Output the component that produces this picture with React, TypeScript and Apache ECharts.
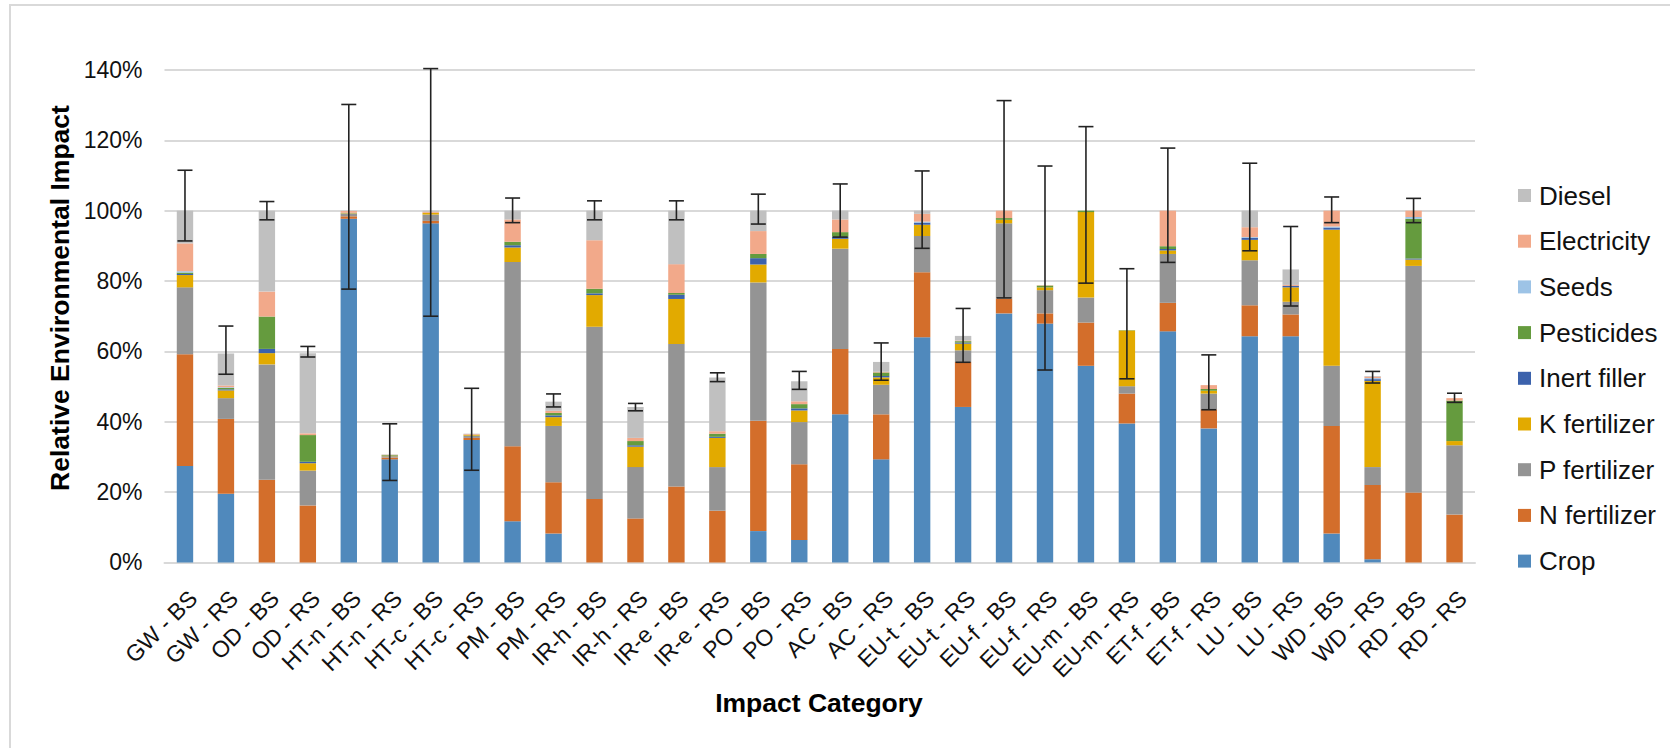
import React, { useEffect, useRef } from "react";
import * as echarts from "echarts";

const categories = [
  "GW - BS", "GW - RS", "OD - BS", "OD - RS", "HT-n - BS", "HT-n - RS", "HT-c - BS", "HT-c - RS",
  "PM - BS", "PM - RS", "IR-h - BS", "IR-h - RS", "IR-e - BS", "IR-e - RS", "PO - BS", "PO - RS",
  "AC - BS", "AC - RS", "EU-t - BS", "EU-t - RS", "EU-f - BS", "EU-f - RS", "EU-m - BS", "EU-m - RS",
  "ET-f - BS", "ET-f - RS", "LU - BS", "LU - RS", "WD - BS", "WD - RS", "RD - BS", "RD - RS",
];

const crop = [27.4, 19.5, 0, 0, 97.7, 29.3, 96.4, 34.8, 11.7, 8.2, 0, 0, 0, 0, 8.9, 6.4, 42.1, 29.3, 64.0, 44.2, 70.8, 67.9, 55.9, 39.5, 65.7, 38.1, 64.3, 64.3, 8.2, 0.9, 0, 0];
const nFertilizer = [31.8, 21.3, 23.5, 16.2, 0.7, 0.5, 0.7, 0.6, 21.3, 14.6, 18.0, 12.5, 21.6, 14.7, 31.4, 21.5, 18.6, 12.8, 18.5, 12.8, 4.2, 2.9, 12.3, 8.5, 8.1, 5.4, 8.8, 6.2, 30.6, 21.1, 19.9, 13.6];
const pFertilizer = [19.0, 5.9, 32.8, 9.9, 0.8, 0.4, 1.8, 0.6, 52.4, 16.0, 49.0, 14.6, 40.5, 12.4, 39.3, 12.0, 28.5, 8.4, 10.3, 3.3, 21.4, 6.6, 7.1, 2.1, 13.9, 4.5, 12.8, 3.6, 17.1, 5.1, 64.4, 19.7];
const kFertilizer = [3.5, 2.2, 3.2, 2.1, 0.1, 0.1, 0.5, 0.2, 4.1, 2.5, 9.0, 5.8, 12.8, 8.3, 5.1, 3.3, 2.8, 2.1, 3.2, 1.9, 1.0, 0.8, 24.3, 15.8, 1.0, 0.8, 5.8, 4.1, 38.7, 24.5, 1.8, 1.2];
const inertFiller = [0.3, 0.3, 1.2, 0.4, 0, 0, 0, 0, 0.7, 0.5, 0.5, 0.4, 1.2, 0.3, 1.8, 0.6, 0.6, 0.4, 0.6, 0.3, 0, 0, 0, 0, 0.4, 0, 0.6, 0.4, 0.6, 0.5, 0.3, 0];
const pesticides = [0.4, 0.4, 9.2, 7.6, 0.1, 0.2, 0, 0.1, 1.0, 0.7, 1.3, 1.2, 0.5, 0.9, 1.2, 1.2, 1.3, 1.0, 0, 0.4, 0.5, 0.5, 0.4, 0.1, 0.8, 0.5, 0, 0, 0, 0, 11.3, 11.5];
const seeds = [0.4, 0.2, 0, 0, 0, 0, 0, 0, 0, 0, 0, 0, 0, 0, 0, 0, 0, 0, 0.3, 0, 0, 0, 0, 0, 0, 0, 0.2, 0, 0.3, 0.3, 0.5, 0];
const electricity = [7.9, 0.5, 7.1, 0.5, 0.5, 0.1, 0.3, 0.2, 6.3, 0.6, 13.8, 0.9, 8.2, 0.7, 6.5, 0.8, 3.6, 0.2, 2.2, 0.2, 2.1, 0.1, 0, 0, 10.1, 1.1, 2.8, 0.3, 4.5, 0.4, 1.8, 0.7];
const diesel = [9.3, 9.1, 23.0, 22.8, 0.1, 0.1, 0.3, 0.1, 2.5, 2.6, 8.4, 8.8, 15.2, 15.3, 5.8, 5.7, 2.5, 2.8, 0.9, 1.3, 0, 0, 0, 0, 0, 0, 4.7, 4.4, 0, 0.2, 0, 0];

const errLow = [91.4, 53.5, 97.4, 58.4, 77.7, 23.3, 70.0, 26.2, 96.6, 44.2, 97.4, 43.1, 97.4, 51.4, 96.2, 49.2, 92.5, 51.8, 89.3, 56.9, 75.2, 54.7, 79.4, 52.2, 85.3, 43.4, 88.6, 72.9, 96.6, 51.0, 96.6, 45.5];
const errHigh = [111.5, 67.2, 102.6, 61.4, 130.2, 39.4, 140.4, 49.5, 103.6, 47.9, 102.8, 45.2, 102.8, 53.9, 104.7, 54.3, 107.6, 62.4, 111.3, 72.2, 131.3, 112.7, 123.9, 83.5, 117.8, 59.0, 113.5, 95.5, 103.9, 54.3, 103.5, 48.1];

const seriesNames = ["Crop", "N fertilizer", "P fertilizer", "K fertilizer", "Inert filler", "Pesticides", "Seeds", "Electricity", "Diesel"];
const seriesData = [crop, nFertilizer, pFertilizer, kFertilizer, inertFiller, pesticides, seeds, electricity, diesel];
const seriesColors = ["#5089BC", "#D36E2B", "#949494", "#E2AA00", "#3C62AC", "#659B3E", "#9DC3E6", "#F2A98A", "#C0C0C0"];

const yTicks = [0, 20, 40, 60, 80, 100, 120, 140];

const FONT = "'Liberation Sans', Arial, sans-serif";

export default function App() {
  const ref = useRef<HTMLDivElement>(null);

  useEffect(() => {
    document.body.style.margin = "0";
    if (!ref.current) return;
    const chart = echarts.init(ref.current, undefined, { renderer: "svg" });

    const barSeries = seriesNames.map((name, i) => ({
      name,
      type: "bar",
      stack: "total",
      barWidth: 16.4,
      data: seriesData[i],
      itemStyle: { color: seriesColors[i] },
      emphasis: { disabled: true },
    }));

    const errData = categories.map((_, i) => [i, errLow[i], errHigh[i]]);

    const option = {
      animation: false,
      backgroundColor: "#ffffff",
      textStyle: { fontFamily: FONT },
      grid: { left: 164.5, right: 195, top: 70, bottom: 185.6, containLabel: false },
      legend: {
        orient: "vertical",
        left: 1518,
        top: 182.5,
        itemWidth: 13,
        itemHeight: 13,
        itemGap: 19.7,
        icon: "rect",
        padding: 0,
        data: [...seriesNames].reverse(),
        textStyle: { fontSize: 26, color: "#111", fontFamily: FONT, lineHeight: 26, padding: [0, 0, 0, 3] },
      },
      xAxis: {
        type: "category",
        data: categories,
        axisLine: { lineStyle: { color: "#D9D9D9", width: 2 } },
        axisTick: { show: false },
        axisLabel: {
          interval: 0,
          rotate: 45,
          margin: 24,
          align: "right",
          verticalAlign: "top",
          fontSize: 23,
          color: "#111",
          fontFamily: FONT,
        },
      },
      yAxis: {
        type: "value",
        min: yTicks[0],
        max: yTicks[yTicks.length - 1],
        interval: 20,
        axisLine: { show: false },
        axisTick: { show: false },
        splitLine: { lineStyle: { color: "#D9D9D9", width: 2 } },
        axisLabel: {
          formatter: "{value}%",
          fontSize: 23,
          color: "#111",
          margin: 22,
          fontFamily: FONT,
        },
      },
      series: [
        ...barSeries,
        {
          name: "error",
          type: "custom",
          data: errData,
          z: 10,
          silent: true,
          renderItem: (params: any, api: any) => {
            const x = api.value(0);
            const lo = api.coord([x, api.value(1)]);
            const hi = api.coord([x, api.value(2)]);
            const cap = 7.5;
            const style = { stroke: "#222", lineWidth: 1.6 };
            return {
              type: "group",
              children: [
                { type: "line", shape: { x1: lo[0], y1: lo[1], x2: hi[0], y2: hi[1] }, style },
                { type: "line", shape: { x1: hi[0] - cap, y1: hi[1], x2: hi[0] + cap, y2: hi[1] }, style },
                { type: "line", shape: { x1: lo[0] - cap, y1: lo[1], x2: lo[0] + cap, y2: lo[1] }, style },
              ],
            };
          },
        },
      ],
      graphic: [
        {
          type: "rect",
          shape: { x: 10, y: 5, width: 1700, height: 800 },
          style: { fill: "none", stroke: "#D9D9D9", lineWidth: 2 },
          silent: true,
        },
        {
          type: "text",
          x: 60,
          y: 298,
          rotation: Math.PI / 2,
          style: {
            text: "Relative Environmental Impact",
            fontSize: 26.5,
            fontWeight: "bold",
            fontFamily: FONT,
            fill: "#000",
            align: "center",
            verticalAlign: "middle",
            textAlign: "center",
            textVerticalAlign: "middle",
          },
        },
        {
          type: "text",
          x: 819,
          y: 703,
          style: {
            text: "Impact Category",
            fontSize: 26.5,
            fontWeight: "bold",
            fontFamily: FONT,
            fill: "#000",
            align: "center",
            verticalAlign: "middle",
            textAlign: "center",
            textVerticalAlign: "middle",
          },
        },
      ],
    };

    chart.setOption(option as any);
    return () => chart.dispose();
  }, []);

  return <div ref={ref} style={{ width: 1670, height: 748 }} />;
}
